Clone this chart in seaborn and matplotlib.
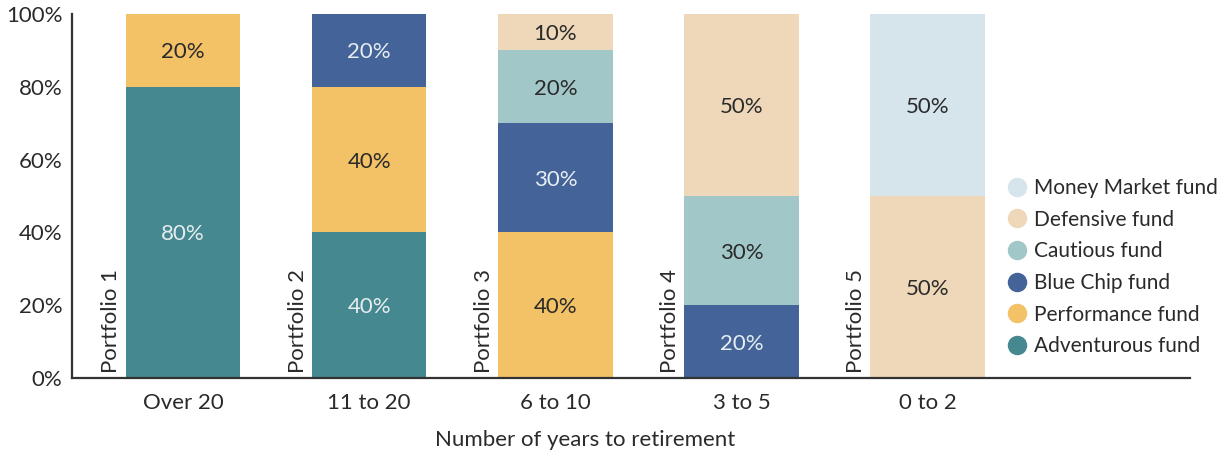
import numpy as np
import pandas as pd
import matplotlib
matplotlib.use("Agg")
import matplotlib.pyplot as plt
from matplotlib.lines import Line2D
import seaborn as sns

categories = ["Over 20", "11 to 20", "6 to 10", "3 to 5", "0 to 2"]
portfolios = ["Portfolio 1", "Portfolio 2", "Portfolio 3", "Portfolio 4", "Portfolio 5"]
funds = ["Adventurous fund", "Performance fund", "Blue Chip fund",
         "Cautious fund", "Defensive fund", "Money Market fund"]
adventurous = [80, 40, 0, 0, 0]
performance = [20, 40, 40, 0, 0]
blue_chip = [0, 20, 30, 20, 0]
cautious = [0, 0, 20, 30, 0]
defensive = [0, 0, 10, 50, 50]
money_market = [0, 0, 0, 0, 50]
yticks = [0, 20, 40, 60, 80, 100]

colors = ["#468890", "#F3C166", "#436399", "#A2C7C8", "#EFD8B9", "#D6E4EC"]
label_colors = ["#E6EEF0", "#2a2a2a", "#E6EEF0", "#2a2a2a", "#2a2a2a", "#2a2a2a"]

series = [adventurous, performance, blue_chip, cautious, defensive, money_market]
vals = np.array(series, dtype=float)
cum = np.cumsum(vals, axis=0)

sns.set_theme(style="white")
plt.rcParams["font.family"] = ["Lato", "DejaVu Sans"]
TXT = "#2a2a2a"
FS = 16

fig = plt.figure(figsize=(12.25, 4.55), dpi=100)
ax = fig.add_axes([72 / 1225, 1 - 378 / 455, (1190 - 72) / 1225, (378 - 14) / 455])

# draw cumulative bars from top layer down (overlap trick)
for i in range(len(funds) - 1, -1, -1):
    df = pd.DataFrame({"cat": categories, "val": cum[i]})
    sns.barplot(data=df, x="cat", y="val", order=categories, color=colors[i],
                saturation=1, width=0.615, ax=ax, linewidth=0, errorbar=None)

# segment labels
for i in range(len(funds)):
    for j in range(len(categories)):
        v = vals[i, j]
        if v > 0:
            ymid = cum[i, j] - v / 2
            ax.text(j, ymid, f"{int(v)}%", ha="center", va="center_baseline",
                    fontsize=FS, color=label_colors[i])

# portfolio labels
for j, p in enumerate(portfolios):
    ax.text(j - 0.385, 1.5, p, rotation=90, ha="center", va="bottom",
            fontsize=FS, color=TXT)

ax.set_xlim(-0.597, 5.41)
ax.set_ylim(0, 100)
ax.set_yticks(yticks)
ax.set_yticklabels([f"{t}%" for t in yticks])
ax.tick_params(axis="both", length=0, labelsize=FS, colors=TXT)
ax.tick_params(axis="y", pad=7)
ax.tick_params(axis="x", pad=11)
ax.set_xlabel("Number of years to retirement", fontsize=FS, color=TXT)
ax.xaxis.set_label_coords((585 - 72) / 1118, -(440 - 378) / 364, transform=ax.transAxes)
ax.xaxis.label.set_va("center")
ax.set_ylabel("")
for s in ["top", "right"]:
    ax.spines[s].set_visible(False)
for s in ["left", "bottom"]:
    ax.spines[s].set_color("#333333")
    ax.spines[s].set_linewidth(1.6)

handles = [Line2D([0], [0], marker="o", linestyle="", markersize=13,
                  markerfacecolor=colors[i], markeredgecolor=colors[i])
           for i in range(len(funds) - 1, -1, -1)]
labels = [funds[i] for i in range(len(funds) - 1, -1, -1)]
fig.legend(handles, labels, loc="upper left", bbox_to_anchor=(1006 / 1225, 1 - 178 / 455),
           frameon=False, fontsize=15, labelcolor=TXT, handletextpad=0.25,
           labelspacing=0.56, handlelength=1.1, borderpad=0, borderaxespad=0)

fig.savefig("out.png", dpi=100)
